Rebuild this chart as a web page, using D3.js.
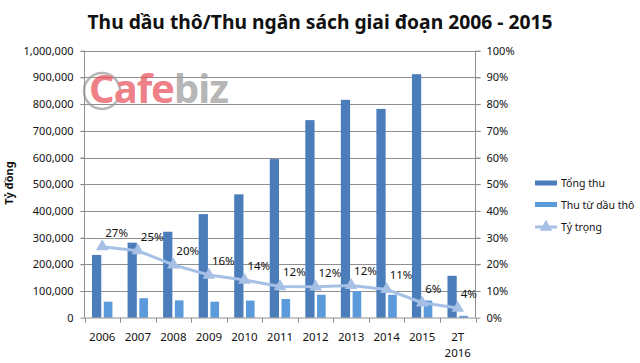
<!DOCTYPE html>
<html>
<head>
<meta charset="utf-8">
<script src="https://cdn.jsdelivr.net/npm/d3@7/dist/d3.min.js"></script>
<style>
  html, body { margin: 0; padding: 0; background: #fff; }
  svg { display: block; }
  text { font-family: "Noto Sans", sans-serif; fill: #111; }
</style>
</head>
<body>
<svg id="chart" width="640" height="363"></svg>
<script>
// ---- data ----
const categories = ["2006","2007","2008","2009","2010","2011","2012","2013","2014","2015","2T 2016"];
const tongThu = [235000, 281000, 322000, 388000, 462000, 594000, 740000, 816000, 782000, 912000, 157000];
const thuDauTho = [60000, 73000, 65000, 60000, 64000, 70000, 86000, 100000, 86000, 64000, 7000];
const tyTrong = [26.6, 25.1, 19.8, 16.0, 14.1, 11.7, 11.6, 12.1, 10.6, 5.6, 3.6];
const leftTicks = [0,100000,200000,300000,400000,500000,600000,700000,800000,900000,1000000];
const rightTicks = [0,10,20,30,40,50,60,70,80,90,100];
const seriesNames = ["Tổng thu", "Thu từ dầu thô", "Tỷ trọng"];
const titleText = "Thu dầu thô/Thu ngân sách giai đoạn 2006 - 2015";
const yAxisTitle = "Tỷ đồng";

// ---- styles ----
const cDark = "#4a7dba", cLight = "#5b9bdc", cLine = "#a6c0e6", cGrid = "#8f8f8f";

const svg = d3.select("#chart");
const L = 84.5, R = 475.5, T = 50.7, B = 317.7;

const x = d3.scaleBand().domain(categories).range([L, R]);
const y = d3.scaleLinear().domain([0, 1000000]).range([B, T]);
const yR = d3.scaleLinear().domain([0, 100]).range([B, T]);
const fmt = d3.format(",");

// title
svg.append("text").attr("x", 320).attr("y", 29).attr("text-anchor", "middle")
  .attr("font-weight", "bold").attr("font-size", 19.5)
  .attr("textLength", 465).attr("lengthAdjust", "spacingAndGlyphs")
  .text(titleText);

// gridlines
svg.append("g").selectAll("line").data(leftTicks.filter(d => d > 0)).join("line")
  .attr("x1", L - 4).attr("x2", R + 5)
  .attr("y1", d => Math.round(y(d)) + 0.5).attr("y2", d => Math.round(y(d)) + 0.5)
  .attr("stroke", cGrid).attr("stroke-width", 1);

// watermark
const wm = svg.append("g").attr("opacity", 0.72);
wm.append("circle").attr("cx", 102).attr("cy", 91).attr("r", 18)
  .attr("fill", "none").attr("stroke", "#9a9a9a").attr("stroke-width", 2.5);
const wt = wm.append("text").attr("x", 89).attr("y", 103).attr("font-size", 40)
  .attr("font-weight", "bold").attr("letter-spacing", -1);
wt.append("tspan").attr("fill", "#e8505a").text("Cafe");
wt.append("tspan").attr("fill", "#9a9a9a").text("biz");

// axes lines
svg.append("line").attr("x1", L).attr("x2", L).attr("y1", T).attr("y2", B)
  .attr("stroke", cGrid);
svg.append("line").attr("x1", R).attr("x2", R).attr("y1", T).attr("y2", B)
  .attr("stroke", cGrid);

// left axis
const yAxis = d3.axisLeft(y).tickValues(leftTicks).tickFormat(fmt).tickSize(4).tickPadding(7);
const gL = svg.append("g").attr("transform", `translate(${L},0)`).call(yAxis);
gL.select(".domain").remove();
gL.selectAll(".tick line").attr("stroke", cGrid);
gL.selectAll(".tick text").attr("font-size", 11).attr("fill", "#111")
  .style("font-family", "'Noto Sans', sans-serif");

// right axis
const yAxisR = d3.axisRight(yR).tickValues(rightTicks).tickFormat(d => d + "%").tickSize(5).tickPadding(6);
const gR = svg.append("g").attr("transform", `translate(${R},0)`).call(yAxisR);
gR.select(".domain").remove();
gR.selectAll(".tick line").attr("stroke", cGrid);
gR.selectAll(".tick text").attr("font-size", 11).attr("fill", "#111")
  .style("font-family", "'Noto Sans', sans-serif");

// bars
const bw = x.bandwidth() * 0.26;
svg.append("g").selectAll("rect").data(categories).join("rect")
  .attr("x", (d) => x(d) + x.bandwidth() / 2 - bw - 1)
  .attr("y", (d, i) => y(tongThu[i]))
  .attr("width", bw).attr("height", (d, i) => B - y(tongThu[i]))
  .attr("fill", cDark);
svg.append("g").selectAll("rect").data(categories).join("rect")
  .attr("x", (d) => x(d) + x.bandwidth() / 2 + 1.5)
  .attr("y", (d, i) => y(thuDauTho[i]))
  .attr("width", bw - 0.6).attr("height", (d, i) => B - y(thuDauTho[i]))
  .attr("fill", cLight);

// x axis
svg.append("line").attr("x1", L).attr("x2", R).attr("y1", B + 0.3).attr("y2", B + 0.3)
  .attr("stroke", cGrid);
const bounds = categories.map(d => x(d)).concat([R]);
svg.append("g").selectAll("line").data(bounds).join("line")
  .attr("x1", d => Math.round(d) + 0.5).attr("x2", d => Math.round(d) + 0.5)
  .attr("y1", B).attr("y2", B + 5).attr("stroke", cGrid);
const xl = svg.append("g").selectAll("text").data(categories).join("text")
  .attr("x", d => x(d) + x.bandwidth() / 2).attr("y", 341)
  .attr("text-anchor", "middle").attr("font-size", 11.5);
xl.each(function(d) {
  const parts = d.split(" ");
  const t = d3.select(this);
  parts.forEach((p, k) => t.append("tspan").attr("x", x(d) + x.bandwidth() / 2)
    .attr("dy", k === 0 ? 0 : 16).text(p));
});

// line
const cx = (d) => x(d) + x.bandwidth() / 2;
const line = d3.line().x((d, i) => cx(categories[i])).y(d => yR(d));
svg.append("path").datum(tyTrong).attr("d", line)
  .attr("fill", "none").attr("stroke", cLine).attr("stroke-width", 3)
  .attr("stroke-linejoin", "round");
const tri = d3.symbol().type(d3.symbolTriangle).size(70);
svg.append("g").selectAll("path").data(tyTrong).join("path")
  .attr("d", tri)
  .attr("transform", (d, i) => `translate(${cx(categories[i])},${yR(d)})`)
  .attr("fill", cLine);
svg.append("g").selectAll("text").data(tyTrong).join("text")
  .attr("x", (d, i) => cx(categories[i]) + 3)
  .attr("y", (d) => yR(d) - 10)
  .attr("font-size", 11.5)
  .text(d => Math.round(d) + "%");

// y axis title
svg.append("text").attr("transform", "translate(13,183) rotate(-90)")
  .attr("text-anchor", "middle").attr("font-size", 11).attr("font-weight", "bold")
  .text(yAxisTitle);

// legend
const lg = svg.append("g");
const ly = [183, 204.5, 227];
lg.append("rect").attr("x", 535).attr("y", ly[0] - 2.5).attr("width", 22).attr("height", 5).attr("fill", cDark);
lg.append("rect").attr("x", 535).attr("y", ly[1] - 2.5).attr("width", 22).attr("height", 5).attr("fill", cLight);
lg.append("line").attr("x1", 535).attr("x2", 557).attr("y1", ly[2]).attr("y2", ly[2])
  .attr("stroke", cLine).attr("stroke-width", 3);
lg.append("path").attr("d", tri).attr("transform", `translate(546,${ly[2]})`).attr("fill", cLine);
lg.selectAll("text").data(seriesNames).join("text")
  .attr("x", 561).attr("y", (d, i) => ly[i] + 4).attr("font-size", 10.5)
  .text(d => d);
</script>
</body>
</html>
